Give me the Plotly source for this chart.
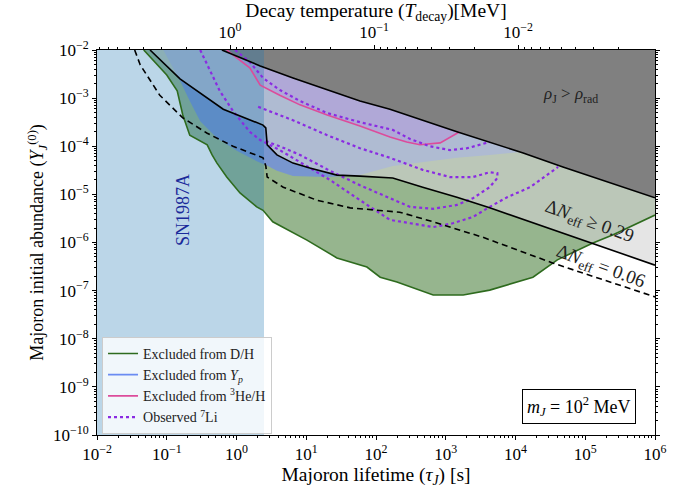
import numpy as np
import plotly.graph_objects as go

# ---------------- data (log10 tau [s], log10 Y) ----------------
# rho_J > rho_rad boundary
rho_ltau = [-0.21, 0.34, 0.81, 1.30, 1.77, 2.20, 3.16, 4.11, 4.68, 6.0]
rho_lY = [-2.0, -2.33, -2.58, -2.83, -3.06, -3.23, -3.70, -4.14, -4.43, -5.07]

# Delta N_eff >= 0.29 (solid)
n29_ltau = [-1.24, -0.81, -0.19, 0.38, 0.42, 0.44, 0.58, 0.81, 1.05, 1.44, 1.77, 2.24, 2.67, 3.16, 3.63, 4.21, 6.0]
n29_lY = [-2.0, -2.60, -3.23, -3.56, -3.62, -3.97, -4.18, -4.35, -4.45, -4.60, -4.62, -4.66, -4.85, -5.06, -5.28, -5.57, -6.47]

# Delta N_eff = 0.06 (dashed)
n06_ltau = [-1.46, -1.38, -1.10, -0.77, -0.42, -0.05, 0.38, 0.42, 0.44, 0.67, 1.15, 1.63, 2.34, 2.82, 3.53, 4.54, 6.0]
n06_lY = [-2.0, -2.31, -2.94, -3.41, -3.73, -4.00, -4.24, -4.41, -4.64, -4.85, -5.12, -5.28, -5.37, -5.57, -5.89, -6.43, -7.13]

# D/H exclusion boundary
dh_ltau = [-1.33, -1.00, -0.85, -0.77, -0.67, -0.42, -0.35, -0.28, -0.14, 0.05, 0.29, 0.38, 0.52,
           1.01, 1.44, 1.87, 2.06, 2.30, 2.82, 3.25, 3.63, 4.25, 4.60, 5.11, 5.40, 6.0]
dh_lY = [-2.0, -2.52, -2.85, -3.35, -3.77, -3.97, -4.18, -4.35, -4.64, -4.97, -5.26, -5.33, -5.57,
         -5.95, -6.32, -6.51, -6.72, -6.82, -7.09, -7.09, -6.99, -6.72, -6.36, -6.01, -5.84, -5.43]

# Y_p exclusion boundary
yp_ltau = [-1.05, -0.81, -0.67, -0.52, -0.28, 0.01, 0.29, 0.45, 0.58, 0.81, 1.30, 1.77, 2.24, 2.67, 3.16, 3.63, 4.07]
yp_lY = [-2.0, -2.64, -3.06, -3.48, -3.83, -4.10, -4.31, -4.41, -4.51, -4.62, -4.64, -4.60, -4.41, -4.33, -4.24, -4.18, -4.12]

# 3He/H exclusion boundary
he_ltau = [-0.14, 0.19, 0.34, 0.62, 0.91, 1.30, 1.77, 2.20, 2.44, 2.63, 2.92, 3.20]
he_lY = [-2.0, -2.37, -2.73, -2.94, -3.14, -3.35, -3.58, -3.81, -3.91, -3.97, -3.93, -3.70]

# Observed 7Li contours (dotted)
li1_ltau = [-0.02, 0.19, 0.38, 0.62, 0.91, 1.30, 1.77, 2.24, 2.49, 2.77, 3.06, 3.31, 3.63]
li1_lY = [-2.0, -2.25, -2.58, -2.83, -3.06, -3.31, -3.50, -3.66, -3.85, -4.00, -4.08, -4.04, -3.91]

li2_ltau = [0.31, 0.81, 1.30, 1.77, 2.20, 2.67, 3.06, 3.39, 3.63, 3.74, 3.74, 3.63, 3.39, 3.16, 2.82,
            2.49, 2.20, 1.77, 1.34, 0.91, 0.62, 0.41]
li2_lY = [-3.18, -3.46, -3.77, -4.04, -4.24, -4.49, -4.64, -4.64, -4.54, -4.56, -4.66, -4.85, -5.08, -5.22, -5.30,
          -5.26, -5.08, -4.81, -4.51, -4.18, -4.00, -3.89]

li3_ltau = [-0.52, -0.38, -0.24, -0.05, 0.19, 0.34, 0.62, 0.91, 1.34, 1.77, 2.20, 2.49, 2.82, 3.10, 3.39,
            3.63, 3.88, 4.21, 4.42, 4.61]
li3_lY = [-2.0, -2.42, -2.85, -3.27, -3.70, -3.87, -4.08, -4.33, -4.70, -5.12, -5.53, -5.60, -5.68, -5.60, -5.47,
          -5.26, -5.06, -4.85, -4.62, -4.43]

# SN1987A excluded lifetimes
sn_tau_max = 2.48

# axis ticks
x_decades = list(range(-2, 7))
y_decades = list(range(-10, -1))
T_decades = [0, -1, -2]
tau_at_1MeV_log = -0.093
tau_T_slope = 2.0645

XMIN, XMAX = -2, 6
YMIN, YMAX = -10, -2

P = lambda a: list(np.power(10.0, np.array(a, dtype=float)))


def pow_label(n):
    return "10<sup>" + (str(n) if n >= 0 else "\u2212" + str(-n)) + "</sup>"


FONT = "Liberation Serif"
green = "#2e6b1e"
blue_line = "#6b8cf2"
pink = "#dc4c9b"
violet = "#8a2be2"

fig = go.Figure()


def fill_poly(xs, ys, color):
    fig.add_trace(go.Scatter(x=P(xs), y=P(ys), mode="lines", fill="toself", fillcolor=color,
                             line=dict(width=0, color=color), showlegend=False, hoverinfo="skip"))


# D/H region (extends to top and right edges)
fill_poly(dh_ltau + [XMAX, dh_ltau[0]], dh_lY + [YMAX, YMAX], "rgba(46,107,30,0.5)")
# Y_p region
fill_poly(yp_ltau + [yp_ltau[-1], yp_ltau[0]], yp_lY + [YMAX, YMAX], "rgba(100,130,250,0.6)")
# 3He/H region
fill_poly(he_ltau + [he_ltau[-1], he_ltau[0]], he_lY + [YMAX, YMAX], "rgba(128,0,255,0.3)")
# Delta N_eff >= 0.29 region
fill_poly(n29_ltau + [XMAX, n29_ltau[0]], n29_lY + [YMAX, YMAX], "rgba(211,211,211,0.6)")
# rho_J > rho_rad region
fill_poly(rho_ltau + [XMAX, rho_ltau[0]], rho_lY + [YMAX, YMAX], "#808080")
# SN1987A band
fig.add_trace(go.Scatter(x=[10**XMIN, sn_tau_max, sn_tau_max, 10**XMIN],
                         y=[10**YMIN, 10**YMIN, 10**YMAX, 10**YMAX],
                         mode="lines", fill="toself", fillcolor="rgba(31,119,180,0.3)",
                         line=dict(width=0), showlegend=False, hoverinfo="skip"))

# boundary lines
fig.add_trace(go.Scatter(x=P(dh_ltau), y=P(dh_lY), mode="lines", line=dict(color=green, width=1.6),
                         name="Excluded from D/H", legendrank=1))
fig.add_trace(go.Scatter(x=[None], y=[None], mode="lines", line=dict(color=blue_line, width=1.6),
                         name="Excluded from <i>Y<sub>p</sub></i>", legendrank=2))
fig.add_trace(go.Scatter(x=P(he_ltau), y=P(he_lY), mode="lines", line=dict(color=pink, width=1.6),
                         name="Excluded from <sup>3</sup>He/H", legendrank=3))
for i, (lx, ly) in enumerate([(li1_ltau, li1_lY), (li2_ltau, li2_lY), (li3_ltau, li3_lY)]):
    fig.add_trace(go.Scatter(x=P(lx), y=P(ly), mode="lines", line=dict(color=violet, width=2.2, dash="dot"),
                             name="Observed <sup>7</sup>Li", showlegend=(i == 0), legendrank=4))
fig.add_trace(go.Scatter(x=P(n29_ltau), y=P(n29_lY), mode="lines", line=dict(color="black", width=1.6),
                         showlegend=False))
fig.add_trace(go.Scatter(x=P(n06_ltau), y=P(n06_lY), mode="lines",
                         line=dict(color="black", width=1.6, dash="6px,4px"), showlegend=False))
fig.add_trace(go.Scatter(x=P(rho_ltau), y=P(rho_lY), mode="lines", line=dict(color="black", width=1.6),
                         showlegend=False))

# top axis helper trace
fig.add_trace(go.Scatter(x=[1.0], y=[1e-5], xaxis="x2", mode="markers", marker=dict(opacity=0),
                         showlegend=False, hoverinfo="skip"))


def tau_of_T(T):
    return 10 ** (tau_at_1MeV_log - tau_T_slope * np.log10(T))


top_major = [float(tau_of_T(10.0 ** n)) for n in T_decades]
top_text = [pow_label(n) for n in T_decades]
top_minor = []
for n in range(-4, 1):
    for k in range(2, 10):
        tv = float(tau_of_T(k * 10.0 ** n))
        if 10**XMIN <= tv <= 10**XMAX:
            top_minor.append(tv)

x_minor = [k * 10.0 ** n for n in range(XMIN, XMAX) for k in range(2, 10)]
y_minor = [k * 10.0 ** n for n in range(YMIN, YMAX) for k in range(2, 10)]

tickfont = dict(family=FONT, size=17, color="black")
xtitlefont = dict(family=FONT, size=19.5, color="black")
ytitlefont = dict(family=FONT, size=18, color="black")

fig.update_layout(
    width=699, height=491,
    margin=dict(l=97, r=44, t=50, b=56, autoexpand=False),
    plot_bgcolor="white", paper_bgcolor="white",
    font=dict(family=FONT, color="black"),
    xaxis=dict(type="log", range=[XMIN, XMAX], automargin=False,
               tickmode="array", tickvals=[10.0 ** n for n in x_decades], ticktext=[pow_label(n) for n in x_decades],
               showgrid=False, zeroline=False, showline=True, linecolor="black", linewidth=1, mirror=True,
               ticks="outside", ticklen=4, tickwidth=1, tickcolor="black", tickfont=tickfont,
               minor=dict(tickmode="array", tickvals=x_minor, ticks="outside", ticklen=2, tickcolor="black"),
               title=dict(text="Majoron lifetime (<i>\u03c4<sub>J</sub></i>) [s]", font=xtitlefont, standoff=2)),
    xaxis2=dict(type="log", range=[XMIN, XMAX], overlaying="x", side="top", showgrid=False, zeroline=False,
                automargin=False, showline=False, tickmode="array", tickvals=top_major, ticktext=top_text,
                ticks="outside", ticklen=4, tickwidth=1, tickcolor="black", tickfont=tickfont,
                minor=dict(tickmode="array", tickvals=top_minor, ticks="outside", ticklen=2, tickcolor="black"),
                title=dict(text="Decay temperature (<i>T</i><sub>decay</sub>)[MeV]", font=xtitlefont, standoff=2)),
    yaxis=dict(type="log", range=[YMIN, YMAX], automargin=False,
               tickmode="array", tickvals=[10.0 ** n for n in y_decades], ticktext=[pow_label(n) for n in y_decades],
               showgrid=False, zeroline=False, showline=True, linecolor="black", linewidth=1, mirror="ticks",
               ticks="outside", ticklen=4, tickwidth=1, tickcolor="black", tickfont=tickfont,
               minor=dict(tickmode="array", tickvals=y_minor, ticks="outside", ticklen=2, tickcolor="black"),
               title=dict(text="Majoron initial abundance (<i>Y<sub>J</sub></i><sup>(0)</sup>)", font=ytitlefont,
                          standoff=4)),
    legend=dict(x=0.009, y=0.255, xanchor="left", yanchor="top", bgcolor="rgba(255,255,255,0.8)",
                bordercolor="#cccccc", borderwidth=1, font=dict(family=FONT, size=14, color="#222"),
                tracegroupgap=0, itemwidth=30),
    showlegend=True,
)

ann = [
    dict(text="SN1987A", x=0.154, y=0.584, textangle=-90, font=dict(family=FONT, size=18, color="#1a2a9a")),
    dict(text="<i>\u03c1</i><sub>J</sub> &gt; <i>\u03c1</i><sub>rad</sub>", x=0.848, y=0.883,
         font=dict(family=FONT, size=17, color="#222")),
    dict(text="\u0394<i>N</i><sub>eff</sub> \u2265 0.29", x=0.882, y=0.553, textangle=20,
         font=dict(family=FONT, size=19, color="#222")),
    dict(text="\u0394<i>N</i><sub>eff</sub> = 0.06", x=0.902, y=0.436, textangle=20,
         font=dict(family=FONT, size=19, color="#222")),
    dict(text="<i>m<sub>J</sub></i> = 10<sup>2</sup> MeV", x=0.864, y=0.074,
         font=dict(family=FONT, size=18, color="black"), bordercolor="black", borderwidth=1,
         bgcolor="white", borderpad=4),
]
for a in ann:
    fig.add_annotation(xref="paper", yref="paper", showarrow=False, xanchor="center", yanchor="middle", **a)

fig.write_html("out.html")
